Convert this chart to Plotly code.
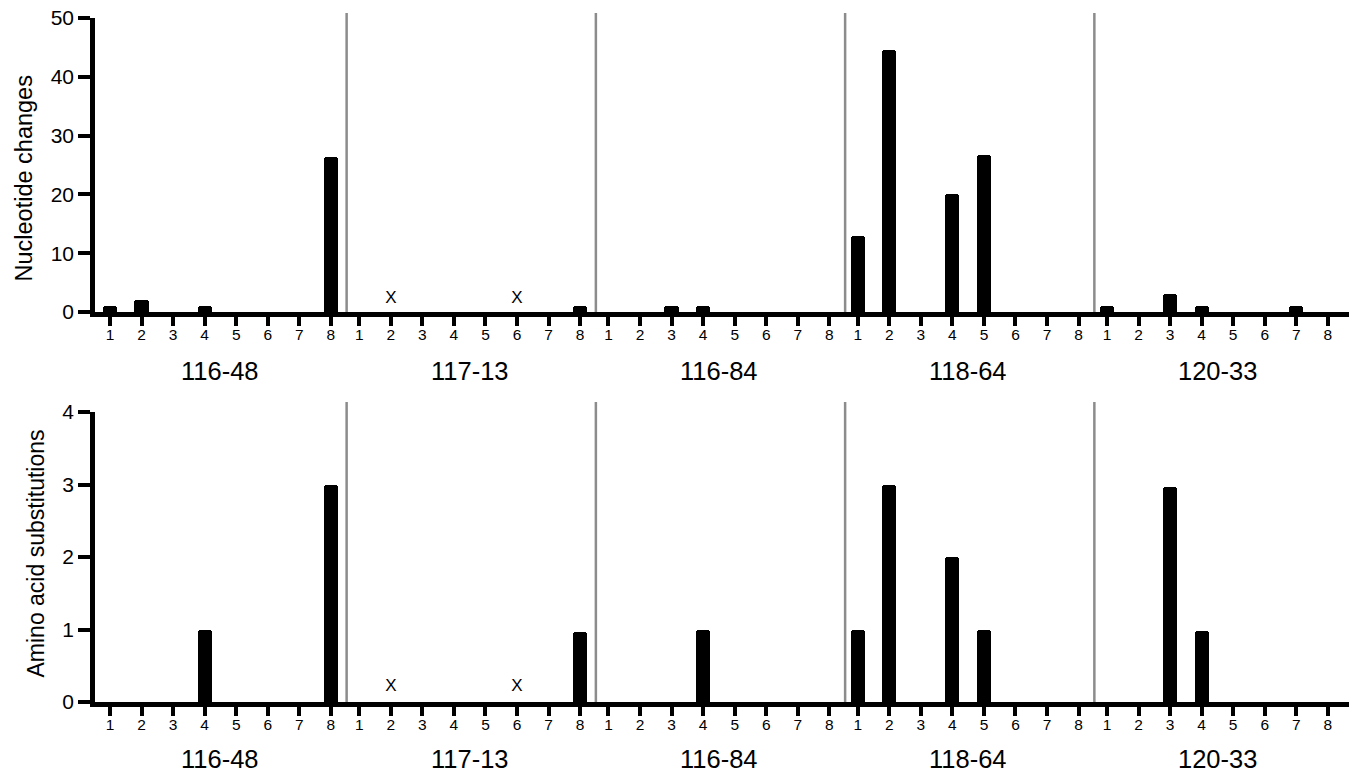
import plotly.graph_objects as go

# ---------------- data ----------------
groups = ["116-48", "117-13", "116-84", "118-64", "120-33"]
positions = [1, 2, 3, 4, 5, 6, 7, 8]

nucleotide_changes = {
    "116-48": [1, 2, 0, 1, 0, 0, 0, 26.4],
    "117-13": [0, 0, 0, 0, 0, 0, 0, 1],
    "116-84": [0, 0, 1, 1, 0, 0, 0, 0],
    "118-64": [13, 44.6, 0, 20, 26.7, 0, 0, 0],
    "120-33": [1, 0, 3, 1, 0, 0, 1, 0],
}
amino_acid_substitutions = {
    "116-48": [0, 0, 0, 1, 0, 0, 0, 3],
    "117-13": [0, 0, 0, 0, 0, 0, 0, 0.96],
    "116-84": [0, 0, 0, 1, 0, 0, 0, 0],
    "118-64": [1, 3, 0, 2, 1, 0, 0, 0],
    "120-33": [0, 0, 2.96, 0.98, 0, 0, 0, 0],
}
# samples marked "X" (no data)
missing = {"117-13": [2, 6]}
missing_y_top = 2.2
missing_y_bottom = 0.21

y_titles = ["Nucleotide changes", "Amino acid substitutions"]
y_ticks_top = [0, 10, 20, 30, 40, 50]
y_ticks_bottom = [0, 1, 2, 3, 4]

# ---------------- layout helpers ----------------
W, H = 1349, 775
GROUP_STEP = 7.9
BAR_W = 0.45
FONT = "Arial, Liberation Sans, sans-serif"


def xpos(g, k):
    return g * GROUP_STEP + (k - 1)


def py(px):  # pixel from top -> paper y
    return 1 - px / H


def pxx(px):
    return px / W


x_left_px, x_zero_px, x_unit_px = 95, 110, 31.55
x_range = [(x_left_px - x_zero_px) / x_unit_px, (W - x_zero_px) / x_unit_px]

panels = [
    dict(data=nucleotide_changes, yr=[0, 50], yt=y_ticks_top, dom=[py(312), py(18)],
         sep_top=py(13), xlab_y=py(371), title_x=23, title_y=py(178.5), title_size=23.5,
         miss_y=missing_y_top),
    dict(data=amino_acid_substitutions, yr=[0, 4], yt=y_ticks_bottom, dom=[py(702), py(412)],
         sep_top=py(402), xlab_y=py(759), title_x=35, title_y=py(553.5), title_size=23,
         miss_y=missing_y_bottom),
]

fig = go.Figure()
tickvals = [xpos(g, k) for g in range(len(groups)) for k in positions]
ticktext = [str(k) for g in range(len(groups)) for k in positions]

annotations = []
shapes = []
for p_i, p in enumerate(panels):
    sfx = "" if p_i == 0 else "2"
    xs, ys = [], []
    for g, name in enumerate(groups):
        for k, v in zip(positions, p["data"][name]):
            if v > 0:
                xs.append(xpos(g, k))
                ys.append(v)
    fig.add_trace(go.Bar(x=xs, y=ys, width=BAR_W,
                         marker=dict(color="black", line=dict(width=0), cornerradius=3),
                         xaxis="x" + sfx, yaxis="y" + sfx, showlegend=False))
    mx, my = [], []
    for name, ks in missing.items():
        g = groups.index(name)
        for k in ks:
            mx.append(xpos(g, k))
            my.append(p["miss_y"])
    fig.add_trace(go.Scatter(x=mx, y=my, mode="text", text=["X"] * len(mx),
                             textfont=dict(size=17, color="black", family=FONT),
                             xaxis="x" + sfx, yaxis="y" + sfx, showlegend=False))

    xa = dict(domain=[pxx(x_left_px), 1], range=x_range, tickvals=tickvals, ticktext=ticktext,
              showline=True, linecolor="black", linewidth=4.5, ticks="outside", ticklen=9,
              tickwidth=4, tickcolor="black", showgrid=False, zeroline=False, automargin=False,
              ticklabelstandoff=-4,
              tickfont=dict(size=15.5, color="black", family=FONT), anchor="y" + sfx,
              fixedrange=True)
    ya = dict(domain=p["dom"], range=p["yr"], tickvals=p["yt"], showline=True, linecolor="black",
              linewidth=4.5, ticks="outside", ticklen=12, tickwidth=4, tickcolor="black",
              showgrid=False, zeroline=False, automargin=False,
              tickfont=dict(size=21, color="black", family=FONT),
              anchor="x" + sfx, fixedrange=True)
    fig.update_layout(**{"xaxis" + sfx: xa, "yaxis" + sfx: ya})

    # separators between groups
    for g in range(len(groups) - 1):
        xsep = g * GROUP_STEP + 7 + (GROUP_STEP - 7) / 2 + 0.05
        shapes.append(dict(type="line", xref="x" + sfx, yref="paper", x0=xsep, x1=xsep,
                           y0=p["dom"][0], y1=p["sep_top"], line=dict(color="#8c8c8c", width=2.5)))
    # group labels
    for g, name in enumerate(groups):
        annotations.append(dict(x=xpos(g, 4.5), y=p["xlab_y"], xref="x" + sfx, yref="paper",
                                text=name, showarrow=False, yanchor="middle",
                                font=dict(size=25.5, color="black", family=FONT)))
    # y title
    annotations.append(dict(x=pxx(p["title_x"]), y=p["title_y"], xref="paper", yref="paper",
                            text=y_titles[p_i], textangle=-90, showarrow=False,
                            xanchor="center", yanchor="middle",
                            font=dict(size=p["title_size"], color="black", family=FONT)))

fig.update_layout(width=W, height=H, margin=dict(l=0, r=0, t=0, b=0, autoexpand=False),
                  plot_bgcolor="white", paper_bgcolor="white", bargap=0,
                  annotations=annotations, shapes=shapes, showlegend=False)

fig.write_html("out.html", config={"displayModeBar": False},
               post_script="document.body.style.margin='0px';")
